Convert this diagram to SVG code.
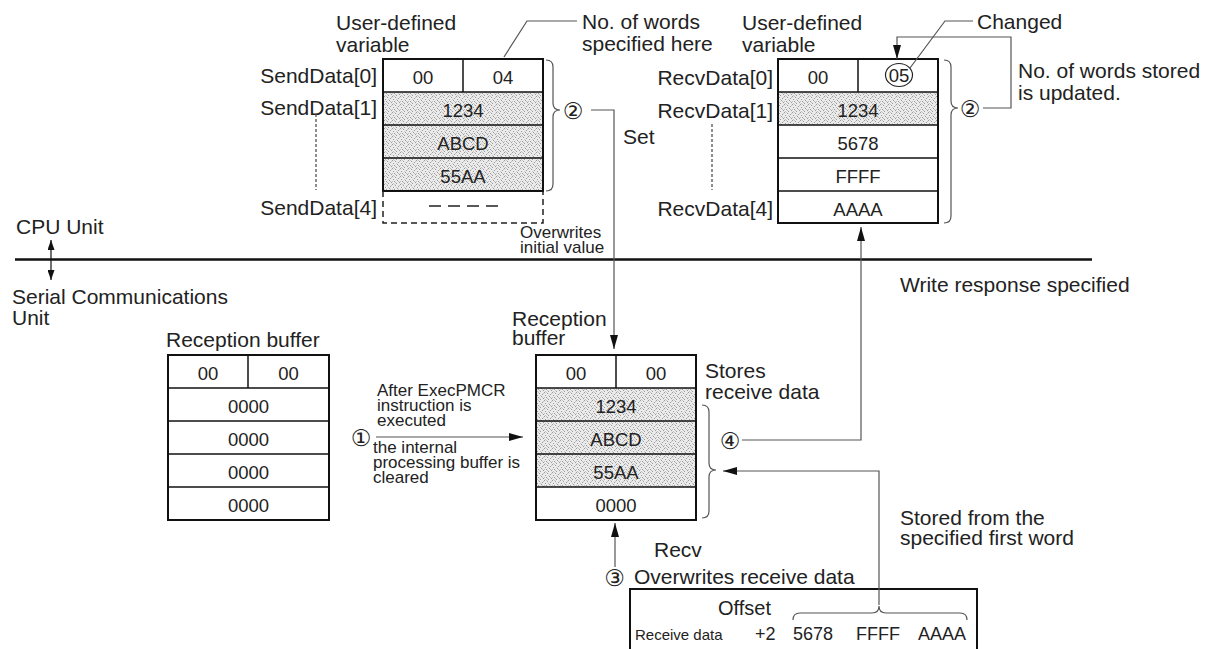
<svg xmlns="http://www.w3.org/2000/svg" width="1207" height="649" viewBox="0 0 1207 649">
<style>
text{font-family:"Liberation Sans",Arial,sans-serif;fill:#222}
.l{font-size:21px}
.c{font-size:18.5px;text-anchor:middle}
.s{font-size:17px}
.n{font-family:"DejaVu Sans",sans-serif;font-size:23px;text-anchor:middle}
.box{fill:none;stroke:#111;stroke-width:2}
.sep{stroke:#111;stroke-width:1.5;fill:none}
.con{fill:none;stroke:#555;stroke-width:1.2}
.br{fill:none;stroke:#555;stroke-width:1.2}
.dash{fill:none;stroke:#222;stroke-width:1.5;stroke-dasharray:6 4}
</style>
<defs>
<pattern id="st" width="8" height="8" patternUnits="userSpaceOnUse">
<rect width="8" height="8" fill="#ebebeb"/>
<rect x="0" y="0" width="1" height="1" fill="#9a9a9a"/>
<rect x="3" y="1" width="1" height="1" fill="#9a9a9a"/>
<rect x="6" y="2" width="1" height="1" fill="#9a9a9a"/>
<rect x="1" y="3" width="1" height="1" fill="#9a9a9a"/>
<rect x="5" y="4" width="1" height="1" fill="#9a9a9a"/>
<rect x="2" y="5" width="1" height="1" fill="#9a9a9a"/>
<rect x="7" y="6" width="1" height="1" fill="#9a9a9a"/>
<rect x="4" y="7" width="1" height="1" fill="#9a9a9a"/>
<rect x="2" y="0" width="1" height="1" fill="#c2c2c2"/>
<rect x="7" y="1" width="1" height="1" fill="#c2c2c2"/>
<rect x="4" y="3" width="1" height="1" fill="#c2c2c2"/>
<rect x="0" y="5" width="1" height="1" fill="#c2c2c2"/>
<rect x="6" y="5" width="1" height="1" fill="#c2c2c2"/>
<rect x="3" y="6" width="1" height="1" fill="#c2c2c2"/>
<rect x="1" y="7" width="1" height="1" fill="#c2c2c2"/>
</pattern>
<marker id="ah" viewBox="0 0 14 8" refX="14" refY="4" markerWidth="14" markerHeight="8" markerUnits="userSpaceOnUse" orient="auto">
<path d="M0,0 L14,4 L0,8 z" fill="#111"/>
</marker>
<marker id="ahs" viewBox="0 0 10 7" refX="10" refY="3.5" markerWidth="10" markerHeight="7" markerUnits="userSpaceOnUse" orient="auto-start-reverse">
<path d="M0,0 L10,3.5 L0,7 z" fill="#111"/>
</marker>
</defs>
<rect width="1207" height="649" fill="#fff"/>

<g id="send-data">
<rect x="383" y="92" width="160" height="99" fill="url(#st)"/>
<rect x="383" y="59" width="160" height="132" class="box"/>
<line x1="463" y1="59" x2="463" y2="92" class="sep"/>
<line x1="383" y1="92" x2="543" y2="92" class="sep"/>
<line x1="383" y1="125" x2="543" y2="125" class="sep"/>
<line x1="383" y1="158" x2="543" y2="158" class="sep"/>
<path d="M383,191 L383,223 L543,223 L543,191" class="dash"/>
<line x1="429" y1="206" x2="500" y2="206" stroke="#222" stroke-width="1.5" stroke-dasharray="12 7"/>
<text class="c" x="423" y="84">00</text>
<text class="c" x="503" y="84">04</text>
<text class="c" x="463" y="117">1234</text>
<text class="c" x="463" y="150">ABCD</text>
<text class="c" x="463" y="183">55AA</text>
<text class="l" x="336" y="30">User-defined</text>
<text class="l" x="336" y="52">variable</text>
<text class="l" x="377" y="83" text-anchor="end">SendData[0]</text>
<text class="l" x="377" y="115" text-anchor="end">SendData[1]</text>
<text class="l" x="377" y="215" text-anchor="end">SendData[4]</text>
<line x1="316" y1="114" x2="316" y2="190" stroke="#444" stroke-width="1.2" stroke-dasharray="3 2"/>
<path d="M546,60 Q553,60 553,67 L553,103 Q553,110 560,110 Q553,110 553,117 L553,184 Q553,191 546,191" class="br"/>
<text class="n" x="573" y="118.5">②</text>
</g>

<g id="recv-data">
<rect x="778" y="92" width="160" height="33" fill="url(#st)"/>
<rect x="778" y="59" width="160" height="164" class="box"/>
<line x1="858" y1="59" x2="858" y2="92" class="sep"/>
<line x1="778" y1="92" x2="938" y2="92" class="sep"/>
<line x1="778" y1="125" x2="938" y2="125" class="sep"/>
<line x1="778" y1="158" x2="938" y2="158" class="sep"/>
<line x1="778" y1="191" x2="938" y2="191" class="sep"/>
<text class="c" x="818" y="84">00</text>
<text class="c" x="899" y="82">05</text>
<ellipse cx="899" cy="75" rx="13.5" ry="11.5" fill="none" stroke="#222" stroke-width="1.2"/>
<text class="c" x="858" y="117">1234</text>
<text class="c" x="858" y="150">5678</text>
<text class="c" x="858" y="183">FFFF</text>
<text class="c" x="858" y="216">AAAA</text>
<text class="l" x="742" y="30">User-defined</text>
<text class="l" x="742" y="52">variable</text>
<text class="l" x="773" y="85" text-anchor="end">RecvData[0]</text>
<text class="l" x="773" y="118" text-anchor="end">RecvData[1]</text>
<text class="l" x="773" y="216" text-anchor="end">RecvData[4]</text>
<line x1="712" y1="124" x2="712" y2="190" stroke="#444" stroke-width="1.2" stroke-dasharray="3 2"/>
<path d="M944,60 Q951,60 951,67 L951,101 Q951,108 958,108 Q951,108 951,115 L951,216 Q951,223 944,223" class="br"/>
<text class="n" x="970" y="116.5">②</text>
<text class="l" x="977" y="29">Changed</text>
<text class="l" x="1018" y="78">No. of words stored</text>
<text class="l" x="1018" y="100">is updated.</text>
</g>

<g id="unit-boundary">
<line x1="15" y1="259.5" x2="1092" y2="259.5" stroke="#111" stroke-width="2.5"/>
<text class="l" x="16" y="234">CPU Unit</text>
<text class="l" x="12" y="304">Serial Communications</text>
<text class="l" x="12" y="325">Unit</text>
<text class="l" x="900" y="292">Write response specified</text>
</g>

<g id="reception-buffer-before">
<rect x="168" y="355" width="161" height="165" class="box"/>
<line x1="248" y1="355" x2="248" y2="388" class="sep"/>
<line x1="168" y1="388" x2="329" y2="388" class="sep"/>
<line x1="168" y1="421" x2="329" y2="421" class="sep"/>
<line x1="168" y1="454" x2="329" y2="454" class="sep"/>
<line x1="168" y1="487" x2="329" y2="487" class="sep"/>
<text class="c" x="208" y="380">00</text>
<text class="c" x="288.5" y="380">00</text>
<text class="c" x="248.5" y="413">0000</text>
<text class="c" x="248.5" y="446">0000</text>
<text class="c" x="248.5" y="479">0000</text>
<text class="c" x="248.5" y="512">0000</text>
<text class="l" x="166" y="347">Reception buffer</text>
</g>

<g id="reception-buffer-after">
<rect x="536" y="388" width="160" height="99" fill="url(#st)"/>
<rect x="536" y="355" width="160" height="165" class="box"/>
<line x1="616" y1="355" x2="616" y2="388" class="sep"/>
<line x1="536" y1="388" x2="696" y2="388" class="sep"/>
<line x1="536" y1="421" x2="696" y2="421" class="sep"/>
<line x1="536" y1="454" x2="696" y2="454" class="sep"/>
<line x1="536" y1="487" x2="696" y2="487" class="sep"/>
<text class="c" x="576" y="380">00</text>
<text class="c" x="656" y="380">00</text>
<text class="c" x="616" y="413">1234</text>
<text class="c" x="616" y="446">ABCD</text>
<text class="c" x="616" y="479">55AA</text>
<text class="c" x="616" y="512">0000</text>
<text class="l" x="512" y="326">Reception</text>
<text class="l" x="512" y="345">buffer</text>
<text class="l" x="705" y="378">Stores</text>
<text class="l" x="705" y="399">receive data</text>
<path d="M702,405 Q709,405 709,412 L709,463 Q709,470 716,470 Q709,470 709,477 L709,511 Q709,518 702,518" class="br"/>
<text class="n" x="730" y="448.5">④</text>
</g>

<g id="receive-data">
<rect x="630" y="589" width="347" height="80" class="box"/>
<text x="718" y="615" style="font-size:20px">Offset</text>
<text x="635" y="640" style="font-size:15px">Receive data</text>
<text x="755" y="640" style="font-size:18px">+2</text>
<text x="793" y="640" style="font-size:18px">5678</text>
<text x="856" y="640" style="font-size:18px">FFFF</text>
<text x="918" y="640" style="font-size:18px">AAAA</text>
<path d="M793,620 Q793,613 800,613 L872,613 Q879,613 879,606 Q879,613 886,613 L960,613 Q967,613 967,620" class="br"/>
<text class="l" x="900" y="525">Stored from the</text>
<text class="l" x="900" y="545">specified first word</text>
</g>

<g id="step-labels">
<text class="l" x="582" y="29">No. of words</text>
<text class="l" x="582" y="51">specified here</text>
<text class="l" x="623" y="144">Set</text>
<text class="s" x="520" y="238">Overwrites</text>
<text class="s" x="520" y="253">initial value</text>
<text class="s" x="377" y="396">After ExecPMCR</text>
<text class="s" x="377" y="411">instruction is</text>
<text class="s" x="377" y="426">executed</text>
<text class="s" x="373" y="453">the internal</text>
<text class="s" x="373" y="468">processing buffer is</text>
<text class="s" x="373" y="483">cleared</text>
<text class="n" x="361" y="445.5">①</text>
<text class="l" x="654" y="557">Recv</text>
<text class="n" x="614.5" y="585.5">③</text>
<text class="l" x="634" y="584">Overwrites receive data</text>
</g>

<g id="connectors">
<path d="M504,57 L527,21 L577,21" class="con"/>
<path d="M910,68 L945,21 L973,21" class="con"/>
<path d="M591,110 L614,110 L614,349" class="con" marker-end="url(#ah)"/>
<path d="M983,108 L1011,108 L1011,37 L897,37 L897,59" class="con" marker-end="url(#ah)"/>
<line x1="51" y1="240" x2="51" y2="280" stroke="#111" stroke-width="1.2" marker-start="url(#ahs)" marker-end="url(#ahs)"/>
<line x1="376" y1="437" x2="523" y2="437" class="con" marker-end="url(#ah)"/>
<path d="M742,440 L861,440 L861,227" class="con" marker-end="url(#ah)"/>
<path d="M879,605 L879,471 L723,471" class="con" marker-end="url(#ah)"/>
<line x1="615" y1="567" x2="615" y2="523" class="con" marker-end="url(#ah)"/>
</g>
</svg>
